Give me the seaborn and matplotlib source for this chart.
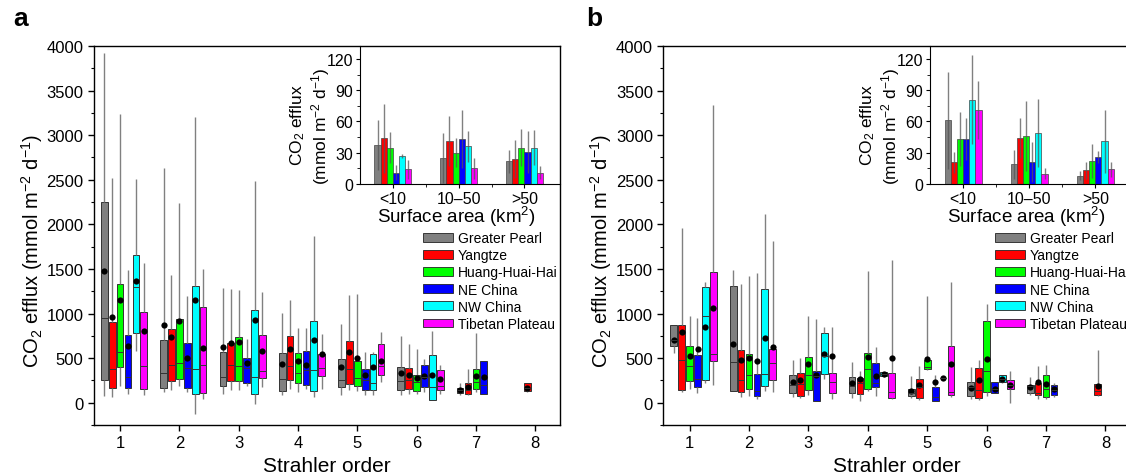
import matplotlib
matplotlib.use('Agg')
import matplotlib.pyplot as plt
from matplotlib.patches import Patch
from matplotlib.ticker import MultipleLocator
import pandas as pd
import seaborn as sns

regions = ['Greater Pearl', 'Yangtze', 'Huang-Huai-Hai', 'NE China', 'NW China', 'Tibetan Plateau']
colors = ['#808080', '#ff0000', '#00ff00', '#0000ff', '#00ffff', '#ff00ff']
orders = [1, 2, 3, 4, 5, 6, 7, 8]
areas = ['<10', '10\u201350', '>50']
N = None

# panel a: box statistics per region (rows) and Strahler order (columns)
a_lo = [[71, 119, 101, 82, 82, 90, 90, N],
        [63, 146, 146, 149, 142, 97, 90, 120],
        [183, 183, 146, 120, 134, 97, 120, N],
        [93, 119, 183, 149, 82, 120, 97, N],
        [575, -123, -19, 64, 82, 30, N, N],
        [82, 45, 175, 149, 232, 97, N, N]]
a_q1 = [[258, 164, 183, 134, 172, 146, 108, N],
        [168, 243, 246, 258, 209, 149, 101, 127],
        [400, 261, 243, 216, 187, 134, 149, N],
        [161, 168, 224, 202, 142, 172, 97, N],
        [784, 97, 97, 131, 146, 34, N, N],
        [149, 112, 273, 299, 310, 142, N, N]]
a_med = [[949, 332, 288, 269, 250, 243, 142, N],
         [377, 422, 422, 411, 373, 254, 142, 164],
         [571, 444, 411, 336, 276, 232, 232, N],
         [288, 388, 388, 362, 254, 290, 200, N],
         [1296, 377, 288, 366, 224, 179, N, N],
         [411, 422, 359, 392, 407, 187, N, N]]
a_q3 = [[2256, 702, 568, 557, 485, 400, 161, N],
        [904, 822, 672, 747, 691, 392, 224, 224],
        [1333, 941, 736, 560, 467, 314, 377, N],
        [758, 668, 504, 579, 381, 418, 463, N],
        [1654, 1311, 1042, 915, 549, 530, N, N],
        [1012, 1068, 758, 541, 661, 366, N, N]]
a_hi = [[3922, 2633, 1289, 1005, 885, 743, 224, N],
        [2521, 1430, 1274, 1157, 1210, 654, 381, 224],
        [3238, 2241, 1259, 840, 1221, 605, 784, N],
        [1490, 1199, 710, 840, 568, 493, 463, N],
        [2506, 3201, 2484, 1875, 571, 803, N, N],
        [1565, 1505, 1244, 773, 796, 418, N, N]]
a_mean = [[1475, 866, 627, 433, 400, 332, 146, N],
          [956, 736, 665, 605, 568, 306, 179, 164],
          [1154, 911, 683, 463, 497, 276, 299, N],
          [635, 504, 448, 418, 306, 295, 284, N],
          [1363, 1154, 930, 706, 396, 314, N, N],
          [799, 609, 575, 541, 467, 269, N, N]]

# panel b
b_lo = [[560, 127, 64, 56, 52, 45, 82, N],
        [120, 64, 56, 19, 26, 26, 37, 75],
        [157, 71, 82, 127, 362, 75, 45, N],
        [105, 45, 15, 75, 15, 112, 64, N],
        [220, 127, 269, 287, 276, 220, N, N],
        [194, 120, 45, 45, 64, 0, N, N]]
b_q1 = [[631, 127, 108, 108, 75, 75, 112, N],
        [138, 116, 78, 97, 56, 56, 90, 82],
        [239, 153, 138, 157, 373, 120, 64, N],
        [179, 78, 15, 176, 15, 112, 82, N],
        [258, 187, 321, 299, 276, 228, N, N],
        [471, 258, 112, 52, 90, 149, N, N]]
b_med = [[706, 456, 194, 187, 105, 176, 183, N],
         [474, 258, 213, 220, 176, 138, 112, 127],
         [407, 314, 306, 381, 400, 351, 157, N],
         [269, 131, 300, 224, 64, 157, 137, N],
         [971, 325, 523, 322, 276, 269, N, N],
         [549, 444, 232, 120, 120, 202, N, N]]
b_q3 = [[874, 1307, 306, 288, 153, 228, 202, N],
        [866, 594, 336, 277, 265, 389, 220, 209],
        [631, 549, 512, 557, 482, 915, 306, N],
        [538, 325, 355, 444, 176, 232, 202, N],
        [1296, 1274, 784, 344, 276, 306, N, N],
        [1464, 605, 332, 336, 635, 250, N, N]]
b_hi = [[874, 1490, 474, 456, 295, 400, 284, N],
        [1961, 1333, 504, 355, 407, 474, 411, 594],
        [967, 1419, 978, 1475, 1202, 1109, 426, N],
        [949, 1453, 941, 620, 314, 232, 220, N],
        [1352, 2118, 848, 350, 276, 314, N, N],
        [3339, 1808, 848, 1606, 1359, 351, N, N]]
b_mean = [[706, 657, 228, 216, 134, 168, 176, N],
          [792, 474, 254, 269, 198, 250, 232, 187],
          [523, 500, 437, 515, 493, 485, 213, N],
          [598, 463, 306, 295, 228, 157, 149, N],
          [844, 728, 549, 321, 276, 269, N, N],
          [1061, 620, 523, 500, 437, 202, N, N]]

# insets: mean and sd by surface area class
a_bar = [[37, 25, 22], [44, 41, 24], [35, 30, 35], [11, 43, 31], [27, 36, 35], [14, 15, 11]]
a_sd = [[24, 24, 11], [33, 24, 18], [15, 14, 18], [7, 28, 20], [2, 15, 17], [9, 10, 6]]
b_bar = [[61, 19, 8], [21, 44, 13], [43, 46, 22], [43, 21, 26], [81, 49, 41], [71, 10, 14]]
b_sd = [[47, 14, 4], [10, 19, 8], [26, 34, 16], [20, 19, 6], [43, 33, 30], [28, 5, 7]]

plt.rcParams['font.family'] = ['Liberation Sans', 'DejaVu Sans']
plt.rcParams['mathtext.fontset'] = 'custom'
plt.rcParams['mathtext.rm'] = 'Liberation Sans'
plt.rcParams['mathtext.default'] = 'regular'

hue_levels = [''] + regions  # empty first slot, as in the original layout
pal = dict(zip(hue_levels, ['white'] + colors))
black = {h: 'black' for h in hue_levels}


def box_frame(lo, q1, med, q3, hi):
    rows = []
    for r, name in enumerate(regions):
        for k, o in enumerate(orders):
            if lo[r][k] is None:
                continue
            for v in (lo[r][k], q1[r][k], med[r][k], q3[r][k], hi[r][k]):
                rows.append((o, name, v))
    return pd.DataFrame(rows, columns=['order', 'region', 'flux'])


def mean_frame(mean):
    rows = [(o, name, mean[r][k]) for r, name in enumerate(regions)
            for k, o in enumerate(orders) if mean[r][k] is not None]
    return pd.DataFrame(rows, columns=['order', 'region', 'flux'])


def main_panel(ax, lo, q1, med, q3, hi, mean, letter, letter_x):
    sns.boxplot(data=box_frame(lo, q1, med, q3, hi), x='order', y='flux', hue='region',
                order=orders, hue_order=hue_levels, palette=pal, saturation=1,
                width=0.9333, gap=0.15, whis=(0, 100), showcaps=False, showfliers=False,
                linecolor='#333333', linewidth=0.7,
                whiskerprops={'color': '#808080', 'linewidth': 1.0},
                legend=False, ax=ax)
    sns.pointplot(data=mean_frame(mean), x='order', y='flux', hue='region',
                  order=orders, hue_order=hue_levels, palette=black, dodge=0.8,
                  linestyle='none', markers='o', markersize=4.5, markeredgewidth=0,
                  errorbar=None, legend=False, ax=ax)
    ax.set_xlim(-0.44, 7.42)
    ax.set_ylim(-250, 4000)
    ax.yaxis.set_major_locator(MultipleLocator(500))
    ax.yaxis.set_minor_locator(MultipleLocator(250))
    ax.tick_params(axis='both', which='major', labelsize=12, length=4, width=1, direction='out')
    ax.tick_params(axis='y', which='minor', length=2.5, width=0.8, direction='out')
    for s in ax.spines.values():
        s.set_linewidth(1.0)
    ax.set_xlabel('Strahler order', fontsize=15)
    ax.set_ylabel('CO$_2$ efflux (mmol m$^{-2}$ d$^{-1}$)', fontsize=14.5)
    ax.yaxis.set_label_coords(-0.106, 0.462)
    ax.text(letter_x, 1.075, letter, transform=ax.transAxes, fontsize=19,
            fontweight='bold', va='center', ha='left')


def inset_panel(ax, bar, sd):
    df = pd.DataFrame([(a, name, bar[r][i]) for r, name in enumerate(regions)
                       for i, a in enumerate(areas)], columns=['area', 'region', 'flux'])
    sns.barplot(data=df, x='area', y='flux', hue='region', order=areas, hue_order=regions,
                palette=dict(zip(regions, colors)), saturation=1, width=0.56,
                errorbar=None, edgecolor='#444444', linewidth=0.5, legend=False, ax=ax)
    bars = list(ax.containers)
    for r, cont in enumerate(bars):
        xs = [p.get_x() + p.get_width() / 2 for p in cont]
        ax.errorbar(xs, bar[r], yerr=sd[r], fmt='none', ecolor='#555555',
                    elinewidth=1.0, alpha=0.75, capsize=0)
    ax.set_xlim(-0.5, 2.54)
    ax.set_ylim(0, 132.5)
    ax.yaxis.set_major_locator(MultipleLocator(30))
    ax.yaxis.set_minor_locator(MultipleLocator(15))
    ax.set_xticks([0.5, 1.5], minor=True)
    ax.patch.set_alpha(0)
    ax.spines['top'].set_visible(False)
    ax.spines['right'].set_visible(False)
    ax.tick_params(axis='both', which='major', labelsize=11.5, length=3, direction='out', pad=2)
    ax.tick_params(axis='both', which='minor', length=2, direction='out')
    ax.set_xlabel('Surface area (km$^2$)', fontsize=13.5)
    ax.xaxis.set_label_coords(0.48, -0.145)
    ax.set_ylabel('CO$_2$ efflux\n(mmol m$^{-2}$ d$^{-1}$)', fontsize=12.5, linespacing=1.1)
    ax.yaxis.set_label_coords(-0.14, 0.43)


fig = plt.figure(figsize=(11.26, 4.77), dpi=100)
ax_a = fig.add_axes([0.0835, 0.1069, 0.4139, 0.7945])
ax_b = fig.add_axes([0.5892, 0.1069, 0.4147, 0.7945])
main_panel(ax_a, a_lo, a_q1, a_med, a_q3, a_hi, a_mean, 'a', -0.174)
main_panel(ax_b, b_lo, b_q1, b_med, b_q3, b_hi, b_mean, 'b', -0.166)

in_a = fig.add_axes([0.3197, 0.6122, 0.1776, 0.2893])
in_b = fig.add_axes([0.8259, 0.6122, 0.1785, 0.2893])
inset_panel(in_a, a_bar, a_sd)
inset_panel(in_b, b_bar, b_sd)

handles = [Patch(facecolor=c, edgecolor='#222222', linewidth=0.6) for c in colors]
for x0 in (0.3757, 0.8837):
    fig.legend(handles, regions, loc='upper left', bbox_to_anchor=(x0, 0.5136),
               frameon=False, fontsize=10, handlelength=2.15, handleheight=0.6,
               handletextpad=0.35, labelspacing=0.23, borderpad=0, borderaxespad=0)

fig.savefig('out.png', dpi=100)
